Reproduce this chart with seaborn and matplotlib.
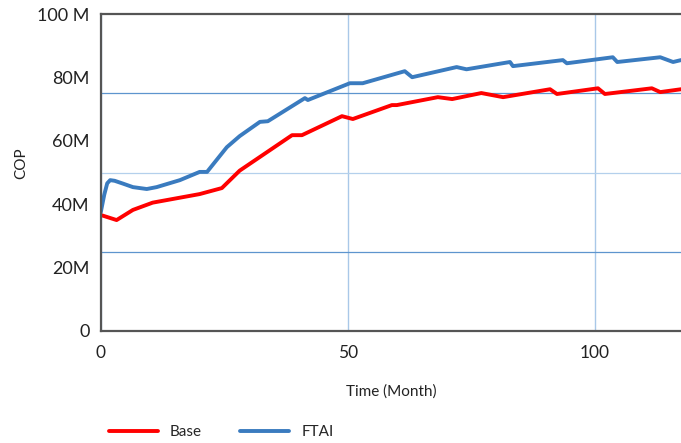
import numpy as np
import pandas as pd
import matplotlib
matplotlib.use("Agg")
import matplotlib.pyplot as plt
from matplotlib.ticker import FixedLocator
import seaborn as sns

# Base scenario (red), values in millions
base_t = [0, 3.2, 6.5, 10.5, 20, 24.5, 28.1, 38.7, 40.7, 48.8, 51.0, 58.9, 59.9,
          68.2, 71.1, 77.0, 81.4, 90.9, 92.3, 100.6, 102.0, 111.5, 113.2, 117.4]
base_v = [36.6, 35.0, 38.2, 40.5, 43.2, 45.1, 50.6, 61.8, 61.8, 67.8, 66.9, 71.3, 71.3,
          73.8, 73.2, 75.1, 73.8, 76.3, 74.8, 76.6, 74.8, 76.6, 75.4, 76.3]

# FTAI scenario (blue)
ftai_t = [0, 0.7, 1.3, 1.9, 2.8, 4.5, 6.5, 9.3, 11.3, 16, 20, 21.5, 25.5, 28.1, 32.2,
          33.8, 41.3, 41.9, 50.4, 53.0, 61.5, 63.0, 72.0, 74.0, 82.8, 83.4, 93.5, 94.3,
          103.6, 104.5, 113.2, 115.8, 117.4]
ftai_v = [37.5, 43.0, 46.6, 47.6, 47.4, 46.5, 45.4, 44.8, 45.4, 47.6, 50.2, 50.2, 58.0,
          61.5, 66.0, 66.2, 73.5, 72.9, 78.2, 78.2, 82.0, 80.1, 83.3, 82.6, 84.9, 83.6,
          85.5, 84.5, 86.4, 84.9, 86.4, 84.9, 85.5]

y_ticks = [0, 20, 40, 60, 80, 100]
y_labels = ["0", "20M", "40M", "60M", "80M", "100 M"]
x_ticks = [0, 50, 100]
grid_y = [25, 50, 75]

df = pd.concat([
    pd.DataFrame({"t": base_t, "v": base_v, "scenario": "Base"}),
    pd.DataFrame({"t": ftai_t, "v": ftai_v, "scenario": "FTAI"}),
])

sns.set_style("white")
plt.rcParams["font.family"] = ["Lato", "DejaVu Sans"]

fig = plt.figure(figsize=(6.81, 4.43), dpi=100)
ax = fig.add_axes([0.148, 0.253, 0.852, 0.715])

sns.lineplot(data=df, x="t", y="v", hue="scenario",
             palette={"Base": "#FF0000", "FTAI": "#3A7BBF"},
             linewidth=2.8, ax=ax, sort=False, estimator=None)

ax.set_xlim(0, 117.4)
ax.set_ylim(0, 100)

ax.set_yticks(y_ticks)
ax.set_yticklabels(y_labels, fontsize=13, color="#222222")
ax.set_xticks(x_ticks)
ax.set_xticklabels([str(x) for x in x_ticks], fontsize=12.5, color="#222222")
ax.tick_params(axis="both", length=0)
ax.tick_params(axis="y", pad=8)
ax.tick_params(axis="x", pad=10)

# gridlines at 25M steps on y, at the labelled ticks on x
ax.yaxis.set_minor_locator(FixedLocator(grid_y))
ax.grid(False)
ax.grid(True, which="minor", axis="y", color="#6A9FD4", linewidth=0.9)
ax.grid(True, which="major", axis="x", color="#A9C8E8", linewidth=1.0)
ax.tick_params(which="minor", length=0)
for tick, col in zip(ax.yaxis.get_minor_ticks(), ["#5E95CE", "#B4D0EC", "#5E95CE"]):
    tick.gridline.set_color(col)

for side in ["top", "left", "bottom"]:
    ax.spines[side].set_color("#555555")
    ax.spines[side].set_linewidth(1.6)
ax.spines["right"].set_visible(False)

ax.set_xlabel("Time (Month)", fontsize=11, color="#222222", labelpad=17)
ax.set_ylabel("COP", fontsize=11, color="#222222")
ax.yaxis.set_label_coords(-0.125, 0.53)

ax.legend(loc="upper left", bbox_to_anchor=(-0.01, -0.255), ncol=2, frameon=False,
          fontsize=11, handlelength=3.2, columnspacing=2.5, title=None)

fig.savefig("out.png", dpi=100)
